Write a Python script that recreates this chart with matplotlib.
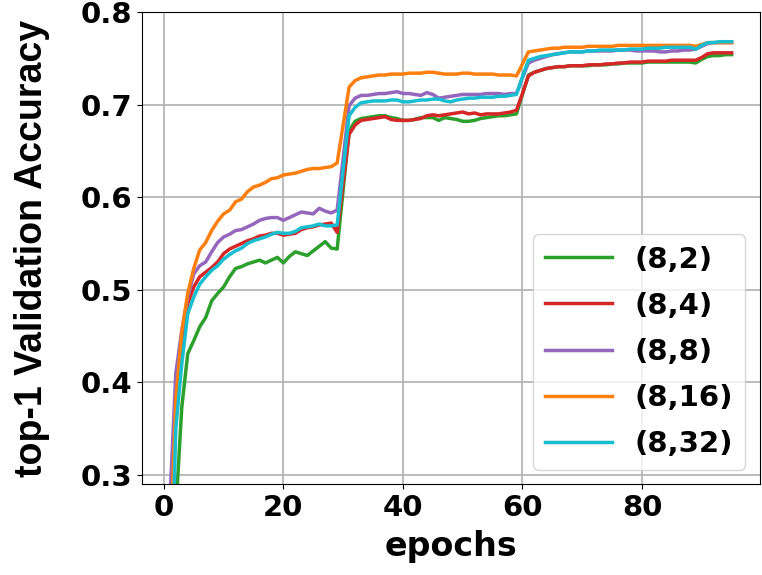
import matplotlib
matplotlib.use("Agg")
import matplotlib.pyplot as plt
import numpy as np

epochs = list(range(1, 96))

labels = ["(8,2)", "(8,4)", "(8,8)", "(8,16)", "(8,32)"]
colors = ["#2ca02c", "#d62728", "#9467bd", "#ff7f0e", "#17becf"]

acc_8_2 = [
    0.10, 0.26, 0.373, 0.431, 0.445, 0.460, 0.470, 0.488, 0.496, 0.503,
    0.514, 0.523, 0.525, 0.528, 0.530, 0.532, 0.529, 0.532, 0.535, 0.529,
    0.536, 0.541, 0.539, 0.537, 0.542, 0.547, 0.552, 0.545, 0.544, 0.608,
    0.672, 0.682, 0.685, 0.686, 0.687, 0.688, 0.688, 0.686, 0.685, 0.683,
    0.683, 0.684, 0.686, 0.686, 0.686, 0.683, 0.686, 0.685, 0.684, 0.682,
    0.682, 0.683, 0.685, 0.686, 0.687, 0.688, 0.688, 0.689, 0.690, 0.711,
    0.732, 0.735, 0.737, 0.739, 0.740, 0.741, 0.741, 0.742, 0.742, 0.742,
    0.742, 0.743, 0.743, 0.743, 0.744, 0.744, 0.745, 0.745, 0.745, 0.745,
    0.746, 0.746, 0.746, 0.746, 0.746, 0.746, 0.746, 0.746, 0.745, 0.749,
    0.752, 0.753, 0.753, 0.754, 0.754,
]

acc_8_4 = [
    0.18, 0.37, 0.44, 0.485, 0.503, 0.514, 0.519, 0.524, 0.530, 0.539,
    0.544, 0.547, 0.550, 0.553, 0.555, 0.558, 0.559, 0.561, 0.561, 0.559,
    0.560, 0.561, 0.565, 0.567, 0.568, 0.570, 0.571, 0.572, 0.562, 0.615,
    0.668, 0.678, 0.683, 0.684, 0.685, 0.686, 0.687, 0.684, 0.683, 0.683,
    0.683, 0.684, 0.685, 0.688, 0.689, 0.688, 0.689, 0.690, 0.691, 0.692,
    0.690, 0.691, 0.689, 0.690, 0.690, 0.690, 0.691, 0.692, 0.694, 0.712,
    0.731, 0.735, 0.737, 0.739, 0.740, 0.741, 0.741, 0.742, 0.742, 0.742,
    0.743, 0.743, 0.743, 0.744, 0.744, 0.745, 0.745, 0.746, 0.746, 0.746,
    0.747, 0.747, 0.747, 0.747, 0.748, 0.748, 0.748, 0.748, 0.748, 0.751,
    0.755, 0.756, 0.756, 0.756, 0.756,
]

acc_8_8 = [
    0.27, 0.41, 0.456, 0.492, 0.517, 0.526, 0.530, 0.541, 0.551, 0.557,
    0.560, 0.564, 0.565, 0.568, 0.571, 0.575, 0.577, 0.578, 0.578, 0.575,
    0.578, 0.581, 0.584, 0.583, 0.582, 0.588, 0.585, 0.583, 0.586, 0.642,
    0.699, 0.707, 0.710, 0.710, 0.711, 0.712, 0.712, 0.713, 0.714, 0.712,
    0.712, 0.711, 0.710, 0.713, 0.711, 0.707, 0.708, 0.709, 0.710, 0.711,
    0.711, 0.711, 0.711, 0.712, 0.712, 0.712, 0.711, 0.712, 0.712, 0.729,
    0.745, 0.748, 0.750, 0.752, 0.754, 0.755, 0.756, 0.757, 0.757, 0.757,
    0.758, 0.758, 0.758, 0.758, 0.758, 0.759, 0.759, 0.759, 0.758, 0.758,
    0.758, 0.758, 0.757, 0.757, 0.758, 0.758, 0.759, 0.759, 0.760, 0.763,
    0.766, 0.767, 0.767, 0.767, 0.767,
]

acc_8_16 = [
    0.21, 0.38, 0.455, 0.496, 0.523, 0.543, 0.551, 0.564, 0.574, 0.582,
    0.586, 0.595, 0.598, 0.606, 0.611, 0.613, 0.616, 0.620, 0.621, 0.624,
    0.625, 0.626, 0.628, 0.630, 0.631, 0.631, 0.632, 0.633, 0.637, 0.678,
    0.719, 0.726, 0.729, 0.730, 0.731, 0.732, 0.732, 0.733, 0.733, 0.733,
    0.734, 0.734, 0.734, 0.735, 0.735, 0.734, 0.733, 0.733, 0.733, 0.734,
    0.734, 0.733, 0.733, 0.733, 0.733, 0.732, 0.732, 0.732, 0.731, 0.744,
    0.757, 0.758, 0.759, 0.760, 0.761, 0.761, 0.762, 0.762, 0.762, 0.762,
    0.763, 0.763, 0.763, 0.763, 0.763, 0.764, 0.764, 0.764, 0.764, 0.764,
    0.764, 0.764, 0.764, 0.764, 0.764, 0.764, 0.764, 0.764, 0.763, 0.765,
    0.767, 0.767, 0.767, 0.767, 0.767,
]

acc_8_32 = [
    0.12, 0.35, 0.42, 0.474, 0.492, 0.506, 0.514, 0.521, 0.526, 0.533,
    0.538, 0.542, 0.545, 0.550, 0.553, 0.555, 0.557, 0.560, 0.562, 0.561,
    0.561, 0.563, 0.567, 0.568, 0.569, 0.571, 0.569, 0.569, 0.570, 0.629,
    0.688, 0.697, 0.702, 0.703, 0.704, 0.704, 0.704, 0.705, 0.705, 0.703,
    0.703, 0.704, 0.705, 0.705, 0.706, 0.706, 0.704, 0.703, 0.705, 0.706,
    0.707, 0.707, 0.708, 0.708, 0.708, 0.709, 0.709, 0.710, 0.711, 0.730,
    0.748, 0.750, 0.752, 0.753, 0.754, 0.755, 0.756, 0.757, 0.757, 0.757,
    0.758, 0.758, 0.759, 0.759, 0.759, 0.759, 0.759, 0.760, 0.760, 0.760,
    0.761, 0.761, 0.761, 0.762, 0.762, 0.762, 0.762, 0.762, 0.760, 0.764,
    0.767, 0.767, 0.768, 0.768, 0.768,
]

series = [acc_8_2, acc_8_4, acc_8_8, acc_8_16, acc_8_32]

fig = plt.figure(figsize=(7.62, 5.75), dpi=100)
ax = fig.add_axes([0.186, 0.158, 0.811, 0.821])

for vals, lab, col in zip(series, labels, colors):
    ax.plot(epochs, vals, color=col, lw=2.5, label=lab)

ax.set_ylim(0.29, 0.8)
ax.set_yticks([0.3, 0.4, 0.5, 0.6, 0.7, 0.8])
ax.set_xticks([0, 20, 40, 60, 80])
ax.grid(True, color="#b0b0b0", lw=1.2)
ax.set_axisbelow(True)

for t in ax.get_xticklabels() + ax.get_yticklabels():
    t.set_fontsize(21)
    t.set_fontweight("bold")

ax.set_xlabel("epochs", fontsize=24, fontweight="bold", labelpad=6)
ax.set_ylabel("top-1 Validation Accuracy", fontsize=27, fontweight="bold",
              family="Liberation Sans", labelpad=22)

leg = ax.legend(loc="lower right", prop={"size": 21, "weight": "bold"},
                handlelength=2.3, labelspacing=0.62)

fig.savefig("out.png", dpi=100)
